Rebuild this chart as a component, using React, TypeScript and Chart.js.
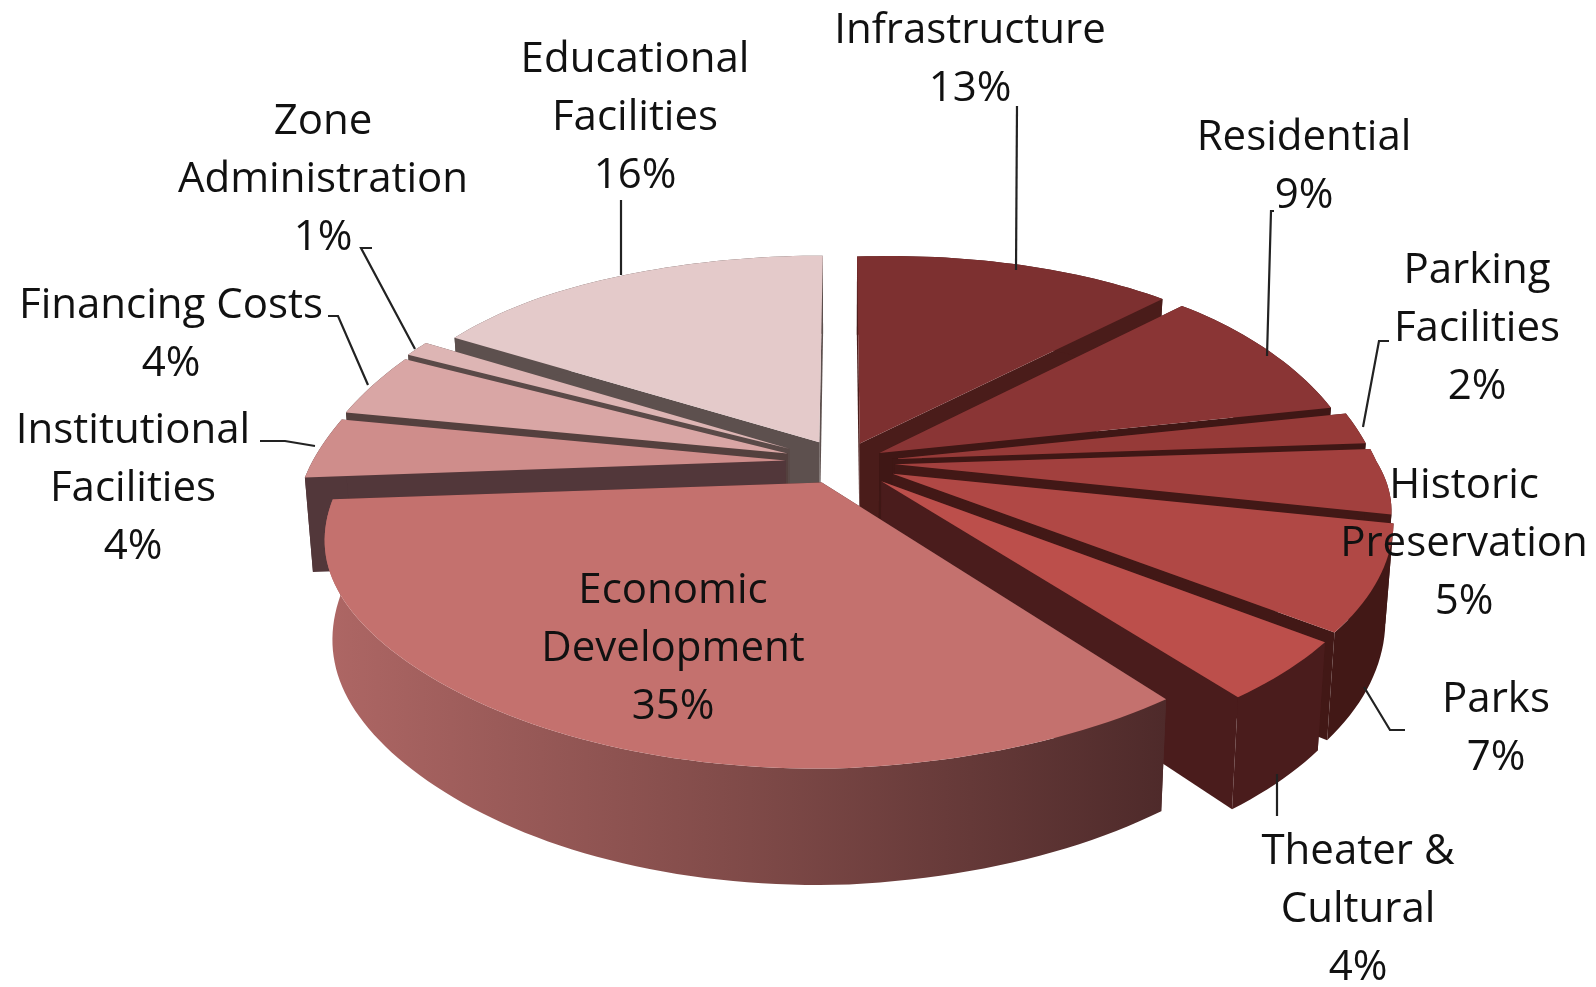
import React, { useEffect, useRef } from "react";
import { Chart, registerables } from "chart.js";

Chart.register(...registerables);

// Budget shares, clockwise from twelve o'clock.
const categories = [
  "Infrastructure", "Residential", "Parking Facilities", "Historic Preservation", "Parks",
  "Theater & Cultural", "Economic Development", "Institutional Facilities", "Financing Costs",
  "Zone Administration", "Educational Facilities",
];
const shares = [13, 9, 2, 5, 7, 4, 35, 4, 4, 1, 16];
const categoryLines = [
  ["Infrastructure"], ["Residential"], ["Parking", "Facilities"], ["Historic", "Preservation"], ["Parks"],
  ["Theater &", "Cultural"], ["Economic", "Development"], ["Institutional", "Facilities"], ["Financing Costs"],
  ["Zone", "Administration"], ["Educational", "Facilities"],
];

// Slice styling
const topColors = ["#7D3030", "#8A3535", "#963A38", "#A2403E", "#B04845", "#BC4F4B", "#C4716E", "#CF8D8B", "#D9A6A5", "#DDB5B4", "#E4CACA"];
const wallColors = ["#4A1C1A", "#3F1715", "#3F1715", "#421816", "#421816", "#4A1C1C", "#4E2A2A", "#52373A", "#54403E", "#5A4A48", "#5D504E"];
const explode = [43, 41, 50, 52, 55, 55, 46, 58, 60, 63, 50];

// Oblique camera used for the tilted disc
const camera = {
  cx: 843, cy: 462, radius: 482, tilt: 0.478, depth: 95,
  spreadFarLeft: 0.175, spreadFarRight: 0.2, spreadNearRight: 0.21, spreadNearLeft: 0.17,
  spreadYFar: 0.2, spreadYNear: 0.17,
  leftDroop: 0.035, rightLift: 0.022, farRightLift: 0.027, wallTaper: 0.015,
};

// Label anchors: centre x and centre y of the first line
const labelAnchors = [
  [970, 31], [1304, 138], [1477, 271], [1464, 486], [1496, 700],
  [1358, 852], [673, 591], [133, 431], [171, 306], [323, 122], [635, 60],
];
const leaderLines = [
  [[1017, 106], [1016, 270]],
  [[1274, 211], [1271, 211], [1267, 356]],
  [[1389, 341], [1379, 341], [1363, 427]],
  null,
  [[1405, 730], [1390, 730], [1364, 687]],
  [[1277, 774], [1277, 816]],
  null,
  [[260, 441], [285, 441], [315, 446]],
  [[328, 316], [338, 316], [368, 385]],
  [[372, 248], [361, 248], [415, 349]],
  [[621, 200], [621, 275]],
];

type Pt = [number, number];

function project(x: number, y: number, z: number): Pt {
  const v = y / camera.radius;
  const spread =
    y < 0
      ? x > 0 ? camera.spreadFarRight : camera.spreadFarLeft
      : x > 0 ? camera.spreadNearRight : camera.spreadNearLeft;
  const wx = 1 - spread * v;
  const wy = 1 - (y < 0 ? camera.spreadYFar : camera.spreadYNear) * v;
  // The flanks of the disc are not quite level: the left sags, the right rises.
  const sag = Math.max(0, 1 - (v / 0.9) ** 2) ** 2;
  let bend = 0;
  if (x < 0) bend = -x * camera.leftDroop * sag;
  else if (y > 0) bend = -x * camera.rightLift * Math.min(1, v / 0.3);
  else bend = -x * camera.farRightLift * Math.min(1, -v / 0.7);
  return [
    camera.cx + (x / wx) * (1 - camera.wallTaper * z),
    camera.cy + bend + (camera.tilt * y + camera.depth * z) / wy,
  ];
}

function fillPoly(ctx: CanvasRenderingContext2D, pts: Pt[], fill: string | CanvasGradient) {
  ctx.beginPath();
  pts.forEach((p, i) => (i ? ctx.lineTo(p[0], p[1]) : ctx.moveTo(p[0], p[1])));
  ctx.closePath();
  ctx.fillStyle = fill;
  ctx.fill();
}

// Extruded, perspective slices built from the pie controller's arc elements.
const discPlugin = {
  id: "tiltedDisc",
  beforeDatasetsDraw(chart: any) {
    const ctx: CanvasRenderingContext2D = chart.ctx;
    const arcs = chart.getDatasetMeta(0).data;
    const order = arcs
      .map((arc: any, i: number) => ({ i, mid: (arc.startAngle + arc.endAngle) / 2, arc }))
      .sort((a: any, b: any) => Math.sin(a.mid) - Math.sin(b.mid));

    for (const { i, mid, arc } of order) {
      const off = arc.options.offset;
      const ox = Math.cos(mid) * off;
      const oy = Math.sin(mid) * off;
      const steps = Math.max(8, Math.ceil((arc.endAngle - arc.startAngle) * 40));
      const rim: [number, number][] = [];
      for (let s = 0; s <= steps; s++) {
        const a = arc.startAngle + ((arc.endAngle - arc.startAngle) * s) / steps;
        rim.push([ox + Math.cos(a) * camera.radius, oy + Math.sin(a) * camera.radius]);
      }
      const top = rim.map(([x, y]) => project(x, y, 0));
      const bottom = rim.map(([x, y]) => project(x, y, 1));
      const apexTop = project(ox, oy, 0);
      const apexBottom = project(ox, oy, 1);

      let wallFill: string | CanvasGradient = wallColors[i];
      if (categories[i] === "Economic Development") {
        const g = ctx.createLinearGradient(top[top.length - 1][0], 0, top[0][0], 0);
        g.addColorStop(0, "#AD6664");
        g.addColorStop(0.5, "#7F4A48");
        g.addColorStop(1, "#4E2A2A");
        wallFill = g;
      }
      fillPoly(ctx, [apexTop, top[0], bottom[0], apexBottom], wallColors[i]);
      fillPoly(ctx, [apexTop, top[top.length - 1], bottom[bottom.length - 1], apexBottom], wallColors[i]);
      fillPoly(ctx, [...top, ...bottom.slice().reverse()], wallFill);
      fillPoly(ctx, [apexTop, ...top], topColors[i]);
    }
    return false;
  },
  afterDraw(chart: any) {
    const ctx: CanvasRenderingContext2D = chart.ctx;
    ctx.save();
    ctx.strokeStyle = "#222222";
    ctx.lineWidth = 2.2;
    leaderLines.forEach((line) => {
      if (!line) return;
      ctx.beginPath();
      line.forEach((p, i) => (i ? ctx.lineTo(p[0], p[1]) : ctx.moveTo(p[0], p[1])));
      ctx.stroke();
    });
    ctx.fillStyle = "#111111";
    ctx.font = '42px "Open Sans"';
    ctx.textAlign = "center";
    ctx.textBaseline = "middle";
    categories.forEach((_, i) => {
      const [x, y] = labelAnchors[i];
      const lines = [...categoryLines[i], `${shares[i]}%`];
      lines.forEach((text, n) => ctx.fillText(text, x, y + n * 58));
    });
    ctx.restore();
  },
};

export default function App() {
  const ref = useRef<HTMLCanvasElement>(null);
  useEffect(() => {
    const chart = new Chart(ref.current!, {
      type: "pie",
      data: {
        labels: categories,
        datasets: [{ data: shares, backgroundColor: topColors, offset: explode, borderWidth: 0 }],
      },
      options: {
        animation: false,
        responsive: false,
        layout: { padding: 0 },
        plugins: { legend: { display: false }, tooltip: { enabled: false } },
      },
      plugins: [discPlugin],
    } as any);
    return () => chart.destroy();
  }, []);
  return (
    <div style={{ position: "absolute", left: 0, top: 0, width: 1596, height: 987, background: "#fff", overflow: "hidden" }}>
      <canvas ref={ref} width={1596} height={987} style={{ display: "block" }} />
    </div>
  );
}
